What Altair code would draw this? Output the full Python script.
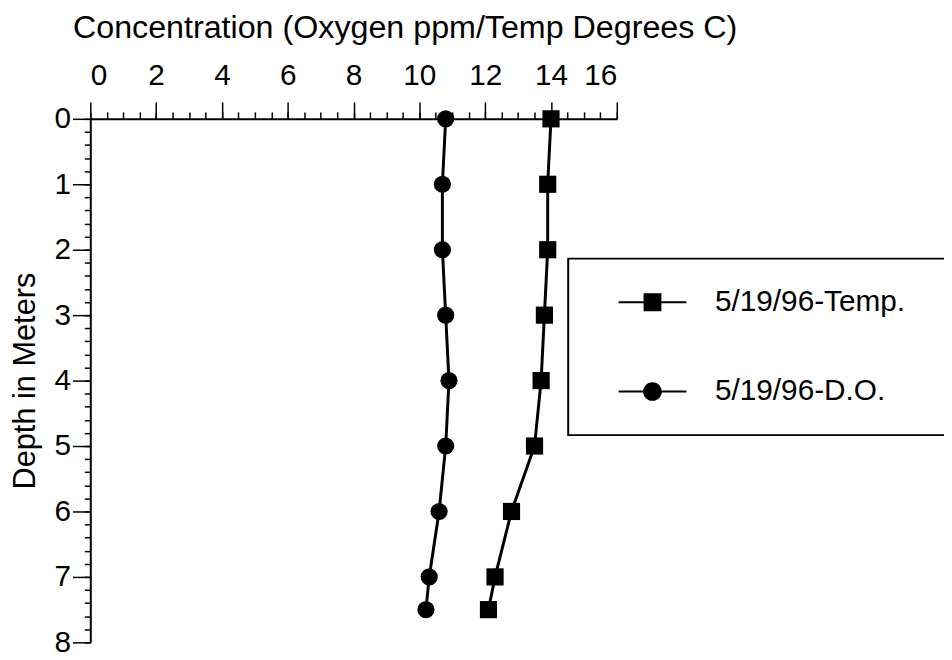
import altair as alt
import pandas as pd

# ---- data ----
depth = [0, 1, 2, 3, 4, 5, 6, 7, 7.5]
temp = [14.0, 13.9, 13.9, 13.8, 13.7, 13.5, 12.8, 12.3, 12.1]
dissolved_oxygen = [10.8, 10.7, 10.7, 10.8, 10.9, 10.8, 10.6, 10.3, 10.2]
series_names = ["5/19/96-Temp.", "5/19/96-D.O."]
series_shapes = ["square", "circle"]
# legend glyphs: a short line with the marker in its middle
legend_glyphs = [
    "M-3.8,-0.11L3.8,-0.11L3.8,0.11L-3.8,0.11ZM-1,-1L1,-1L1,1L-1,1Z",
    "M-3.8,-0.11L3.8,-0.11L3.8,0.11L-3.8,0.11ZM-1.05,0A1.05,1.05,0,1,1,1.05,0A1.05,1.05,0,1,1,-1.05,0Z",
]

x_major = [0, 2, 4, 6, 8, 10, 12, 14, 16]
x_minor = [i * 0.5 for i in range(33)]
y_major = [0, 1, 2, 3, 4, 5, 6, 7, 8]
y_minor = [round(i * 0.2, 1) for i in range(41)]

x_title = "Concentration (Oxygen ppm/Temp Degrees C)"
y_title = "Depth in Meters"

df = pd.DataFrame({
    "depth": depth + depth,
    "value": temp + dissolved_oxygen,
    "series": [series_names[0]] * len(depth) + [series_names[1]] * len(depth),
})

FONT = "Liberation Sans"
NBSP = "\u00a0"  # blank spacer: the legend frame runs off the right edge in the reference

xscale = alt.Scale(domain=[0, 16], nice=False, zero=False)
yscale = alt.Scale(domain=[0, 8], nice=False, reverse=True)

lines = alt.Chart(df).mark_line(color="black", strokeWidth=3).encode(
    x=alt.X("value:Q", scale=xscale,
            axis=alt.Axis(orient="top", values=x_major, tickSize=17,
                          labelPadding=18, labelBaseline="alphabetic",
                          labelFontSize=30, title=x_title,
                          titleFontSize=32.5, titleX=-18, titleY=-82,
                          titleAlign="left", titleBaseline="alphabetic",
                          titleAngle=0)),
    y=alt.Y("depth:Q", scale=yscale,
            axis=alt.Axis(orient="left", values=y_major, tickSize=18,
                          labelPadding=2, labelFontSize=30, title=y_title,
                          titleFontSize=31, titleX=-56, titleY=264,
                          titleAngle=270, titleAlign="center",
                          titleBaseline="alphabetic")),
    detail="series:N",
    order="depth:Q",
)

points = alt.Chart(df).mark_point(filled=True, opacity=1, color="black", size=300).encode(
    x=alt.X("value:Q", scale=xscale, title=None,
            axis=alt.Axis(orient="top", values=x_minor, tickSize=7,
                          labels=False, domain=False)),
    y=alt.Y("depth:Q", scale=yscale, title=None,
            axis=alt.Axis(orient="left", values=y_minor, tickSize=6,
                          labels=False, domain=False)),
    shape=alt.Shape("series:N",
                    scale=alt.Scale(domain=series_names, range=series_shapes),
                    legend=None),
)

legend_layer = alt.Chart(df).mark_point(
    filled=True, color="black", opacity=0
).encode(
    x=alt.X("value:Q", scale=xscale, title=None, axis=None),
    y=alt.Y("depth:Q", scale=yscale, title=None, axis=None),
    shape=alt.Shape(
        "series:N",
        scale=alt.Scale(domain=series_names, range=legend_glyphs),
        sort=series_names,
        legend=alt.Legend(
            orient="none", legendX=482, legendY=141,
            title=NBSP, titleOrient="right", titlePadding=40,
            titleFontSize=30, titleFont=FONT,
            padding=29, strokeColor="black", fillColor="white",
            symbolSize=324, symbolOffset=41, labelOffset=48,
            symbolOpacity=1, symbolFillColor="black",
            symbolStrokeColor="black", symbolStrokeWidth=2,
            rowPadding=60, labelFontSize=30, labelFont=FONT,
            labelColor="black", labelLimit=1000, labelBaseline="middle",
        ),
    ),
)

chart = alt.layer(lines, points, legend_layer).resolve_scale(
    x="shared", y="shared", shape="independent"
).resolve_axis(
    x="independent", y="independent"
).properties(
    width=531, height=528,
    autosize=alt.AutoSizeParams(type="none"),
    padding={"left": 83, "top": 109, "right": 330, "bottom": 12},
).configure_view(
    strokeWidth=0
).configure_axis(
    domainColor="black", domainWidth=2, tickColor="black", tickWidth=1.5,
    labelColor="black", titleColor="black", labelFont=FONT, titleFont=FONT,
    grid=False, titleFontWeight="normal",
).configure_legend(
    strokeWidth=2,
)

chart.save("out.html", embed_options={"renderer": "svg", "actions": False})
